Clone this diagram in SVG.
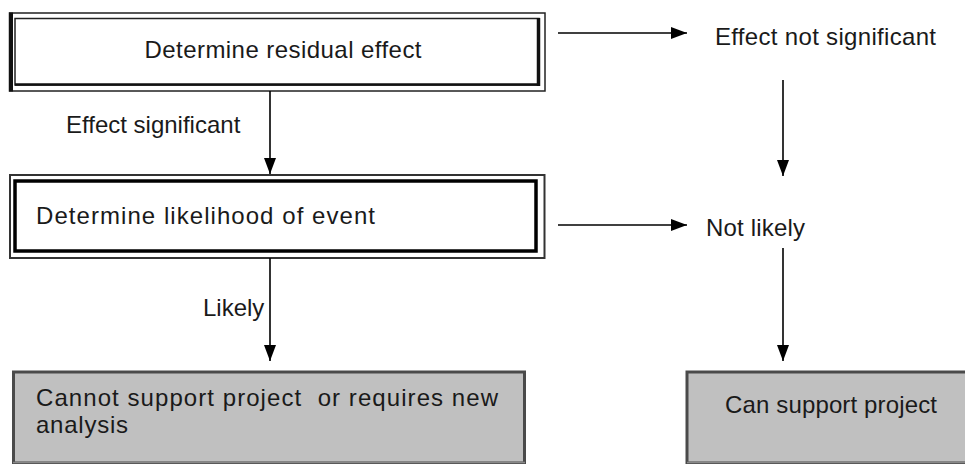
<svg xmlns="http://www.w3.org/2000/svg" width="965" height="464" viewBox="0 0 965 464">
<defs>
<marker id="ah" markerWidth="16" markerHeight="12" refX="16" refY="6" orient="auto" markerUnits="userSpaceOnUse">
<path d="M0,0 L16,6 L0,12 Z" fill="#000"/>
</marker>
<style>
text{font-family:"Liberation Sans",Arial,sans-serif;font-size:24px;fill:#1a1a1a}
.con{stroke:#000;stroke-width:1.6;fill:none;marker-end:url(#ah)}
.thin{fill:none;stroke:#222;stroke-width:1.5}
.frame{fill:#fff;stroke:#333;stroke-width:2}
.grey{fill:#c0c0c0;stroke:#4a4a4a;stroke-width:3}
</style>
</defs>
<rect width="965" height="464" fill="#fff"/>
<g id="residual">
<rect x="9.5" y="13" width="535.5" height="78" fill="#fff" class="thin"/>
<rect x="15" y="18.5" width="524" height="66.5" class="thin"/>
<line x1="11" y1="12.5" x2="11" y2="91.5" stroke="#111" stroke-width="4"/>
<line x1="538.5" y1="18" x2="538.5" y2="86" stroke="#111" stroke-width="3.5"/>
<line x1="15" y1="84.5" x2="540" y2="84.5" stroke="#111" stroke-width="2.5"/>
<text x="144.5" y="58" textLength="277">Determine residual effect</text>
</g>
<g id="likelihood">
<rect x="10" y="175" width="534.5" height="83" class="frame"/>
<rect x="15" y="181" width="521" height="70" fill="none" stroke="#000" stroke-width="3.5"/>
<text x="36" y="224" textLength="339">Determine likelihood of event</text>
</g>
<g id="notsig">
<text x="715" y="45" textLength="221">Effect not significant</text>
</g>
<g id="notlikely">
<text x="706" y="236" textLength="99">Not likely</text>
</g>
<g id="cannot">
<rect x="13.5" y="372" width="511" height="91" class="grey"/>
<line x1="13" y1="462.5" x2="525" y2="462.5" stroke="#888" stroke-width="1.5"/>
<text x="36" y="406" textLength="462" xml:space="preserve">Cannot support project  or requires new</text>
<text x="36" y="433" textLength="92">analysis</text>
</g>
<g id="can">
<rect x="687" y="372" width="290" height="91" class="grey"/>
<line x1="687" y1="462.5" x2="965" y2="462.5" stroke="#888" stroke-width="1.5"/>
<text x="725" y="413" textLength="212">Can support project</text>
</g>
<g id="connectors">
<line class="con" x1="558" y1="33" x2="687" y2="33"/>
<line class="con" x1="558" y1="225" x2="687" y2="225"/>
<line class="con" x1="270" y1="91" x2="270" y2="174"/>
<line class="con" x1="270" y1="258" x2="270" y2="361"/>
<line class="con" x1="783" y1="80" x2="783" y2="176"/>
<line class="con" x1="783" y1="248" x2="783" y2="361"/>
<text x="66" y="133">Effect significant</text>
<text x="203" y="316">Likely</text>
</g>
</svg>
